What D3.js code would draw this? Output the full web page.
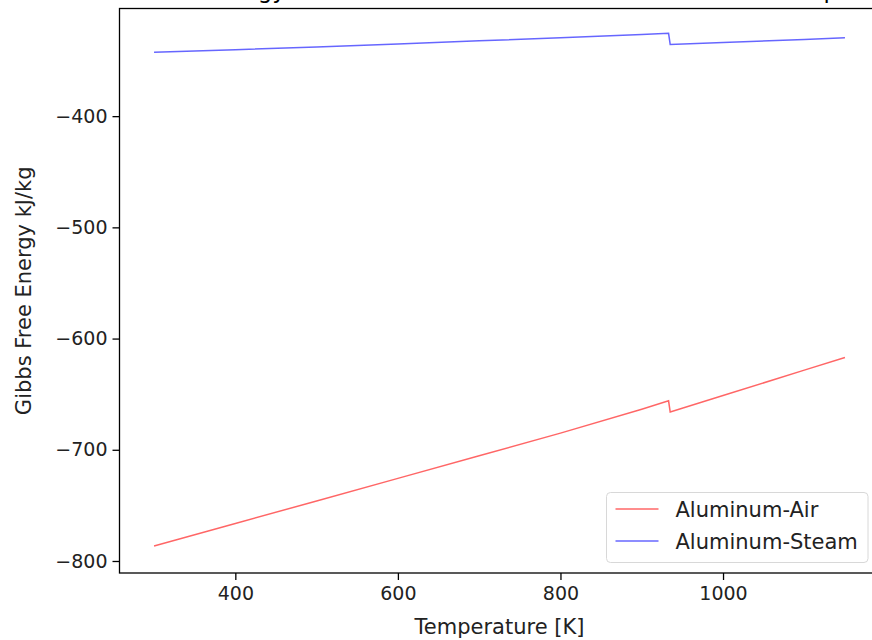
<!DOCTYPE html>
<html>
<head>
<meta charset="utf-8">
<script src="https://cdn.jsdelivr.net/npm/d3@7"></script>
<style>
    body { margin: 0; background: #fff; }
    svg { display: block; font-family: "DejaVu Sans", sans-serif; }
</style>
</head>
<body>
<div id="chart"></div>
<script>
// Temperature points [K] (jump at the melting point of Al)
const temps = [300, 400, 500, 600, 700, 800, 900, 933, 935, 1000, 1100, 1150];
// Gibbs free energy kJ/kg
const airG = [-786.5, -766.3, -746, -725.7, -705.4, -685, -663.5, -656, -666, -651.2, -628.4, -617];
const steamG = [-342.5, -340.2, -337.8, -335.1, -332.3, -329.5, -326.6, -325.5, -335.5, -333.7, -331, -329.6];

const seriesNames = ['Aluminum-Air', 'Aluminum-Steam'];
const seriesColors = ['#ff0000', '#0000ff'];
const xTicks = [400, 600, 800, 1000];
const yTicks = [-800, -700, -600, -500, -400];

const width = 872, height = 640;
const margin = { left: 119.5, top: 8.5, right: 879.5, bottom: 573 };

const svg = d3.select('#chart')
    .append('svg')
    .attr('width', width)
    .attr('height', height);

svg.append('rect')
    .attr('width', width)
    .attr('height', height)
    .attr('fill', '#fff');

// Scales (matplotlib-like 5% margins)
const x = d3.scaleLinear()
    .domain([257.5, 1192.5])
    .range([margin.left, margin.right]);
const y = d3.scaleLinear()
    .domain([-810.8, -303.2])
    .range([margin.bottom, margin.top]);

// Title (mostly cut off at the top of the picture)
svg.append('text')
    .attr('x', (margin.left + margin.right) / 2)
    .attr('y', -2)
    .attr('text-anchor', 'middle')
    .attr('font-size', '23px')
    .attr('fill', '#000')
    .text('Gibbs Free Energy of Aluminum-Air and Aluminum-Steam vs Temperature');

svg.append('clipPath')
    .attr('id', 'plotClip')
    .append('rect')
    .attr('x', margin.left)
    .attr('y', margin.top)
    .attr('width', margin.right - margin.left)
    .attr('height', margin.bottom - margin.top);

// Lines
const line = d3.line()
    .x(d => x(d[0]))
    .y(d => y(d[1]));

const series = [airG, steamG];
series.forEach((vals, i) => {
    svg.append('path')
        .datum(temps.map((t, j) => [t, vals[j]]))
        .attr('clip-path', 'url(#plotClip)')
        .attr('d', line)
        .attr('fill', 'none')
        .attr('stroke', seriesColors[i])
        .attr('stroke-opacity', 0.6)
        .attr('stroke-width', 1.5);
});

// Axes
const xAxis = svg.append('g')
    .attr('transform', `translate(0,${margin.bottom})`)
    .call(d3.axisBottom(x).tickValues(xTicks).tickSize(7).tickPadding(5).tickFormat(d3.format('d')));
const yAxis = svg.append('g')
    .attr('transform', `translate(${margin.left},0)`)
    .call(d3.axisLeft(y).tickValues(yTicks).tickSize(7).tickPadding(5)
        .tickFormat(d => '\u2212' + Math.abs(d)));

[xAxis, yAxis].forEach(a => {
    a.select('.domain').remove();
    a.selectAll('line').attr('stroke', '#000').attr('stroke-width', 1.3);
    a.selectAll('text')
        .attr('font-family', '"DejaVu Sans", sans-serif')
        .attr('font-size', '19px')
        .attr('fill', '#222');
});
xAxis.selectAll('text').attr('dy', '0.78em');

// Spines
svg.append('rect')
    .attr('x', margin.left)
    .attr('y', margin.top)
    .attr('width', margin.right - margin.left)
    .attr('height', margin.bottom - margin.top)
    .attr('fill', 'none')
    .attr('stroke', '#000')
    .attr('stroke-width', 1.3);

// Axis labels
svg.append('text')
    .attr('x', (margin.left + margin.right) / 2 - 0.5 * 0 - 0)
    .attr('x', x(725))
    .attr('y', 634)
    .attr('text-anchor', 'middle')
    .attr('font-size', '21px')
    .attr('fill', '#222')
    .text('Temperature [K]');

svg.append('text')
    .attr('transform', `translate(31,${(margin.top + margin.bottom) / 2}) rotate(-90)`)
    .attr('text-anchor', 'middle')
    .attr('font-size', '21px')
    .attr('fill', '#222')
    .text('Gibbs Free Energy kJ/kg');

// Legend
const legend = svg.append('g').attr('transform', 'translate(606.5,492.5)');
legend.append('rect')
    .attr('width', 261.5)
    .attr('height', 70)
    .attr('rx', 4)
    .attr('fill', '#fff')
    .attr('fill-opacity', 0.8)
    .attr('stroke', '#d8d8d8')
    .attr('stroke-width', 1);

seriesNames.forEach((name, i) => {
    const ly = 16.5 + i * 32;
    legend.append('line')
        .attr('x1', 9).attr('x2', 52)
        .attr('y1', ly).attr('y2', ly)
        .attr('stroke', seriesColors[i])
        .attr('stroke-opacity', 0.6)
        .attr('stroke-width', 1.5);
    legend.append('text')
        .attr('x', 69)
        .attr('y', ly)
        .attr('dy', '0.36em')
        .attr('font-size', '21px')
        .attr('fill', '#222')
        .text(name);
});
</script>
</body>
</html>
